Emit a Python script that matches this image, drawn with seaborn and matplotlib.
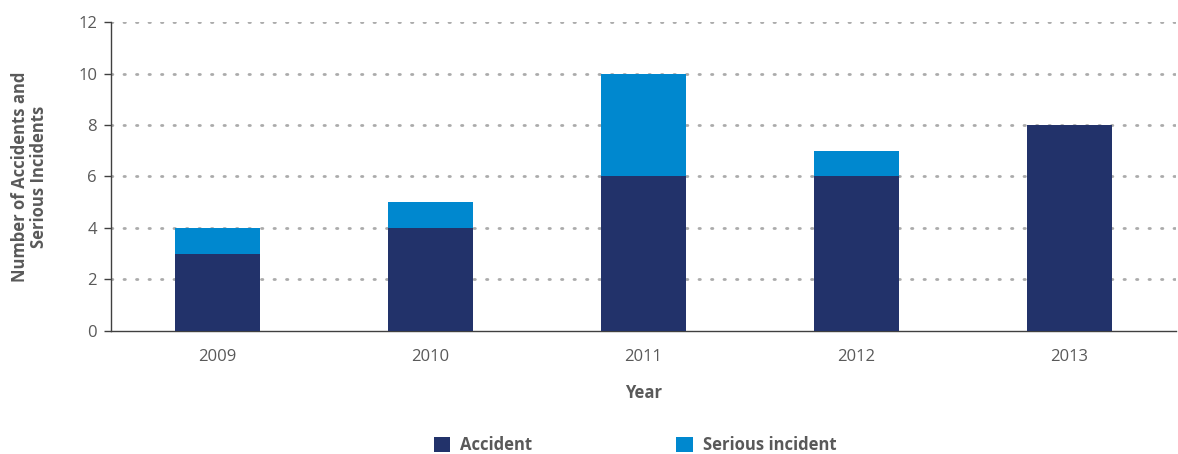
import matplotlib
matplotlib.use("Agg")
import matplotlib.pyplot as plt
from matplotlib.patches import Patch
import numpy as np
import pandas as pd
import seaborn as sns

# ----- data -----
years = ["2009", "2010", "2011", "2012", "2013"]
accident = [3, 4, 6, 6, 8]
serious_incident = [1, 1, 4, 1, 0]

navy = "#22326A"
blue = "#0088CF"
grey_txt = "#595959"

sns.set_theme(style="white")
plt.rcParams["font.family"] = ["Open Sans", "DejaVu Sans"]

df = pd.DataFrame({"Year": years, "Accident": accident, "Serious incident": serious_incident})
df["Total"] = df["Accident"] + df["Serious incident"]

fig = plt.figure(figsize=(11.78, 4.54), dpi=100)
ax = fig.add_axes([0.0942, 0.271, 0.904, 0.6805])

# stacked: total first (blue), accident over it (navy)
sns.barplot(data=df, x="Year", y="Total", order=years, color=blue, width=0.4,
            saturation=1, linewidth=0, ax=ax, zorder=3)
sns.barplot(data=df, x="Year", y="Accident", order=years, color=navy, width=0.4,
            saturation=1, linewidth=0, ax=ax, zorder=3)

ax.set_ylim(0, 12)
ax.set_yticks(np.arange(0, 13, 2))
ax.set_xlim(-0.5, len(years) - 0.5)

ax.yaxis.grid(True, color="#ABABAB", linestyle=(0, (0.5, 4.0)), linewidth=2.0,
              dash_capstyle="round", zorder=0)
ax.set_axisbelow(True)
ax.get_ygridlines()[0].set_visible(False)

for s in ["top", "right"]:
    ax.spines[s].set_visible(False)
ax.spines["left"].set_color("#404040")
ax.spines["bottom"].set_color("#404040")
ax.spines["left"].set_linewidth(1.0)
ax.spines["bottom"].set_linewidth(1.0)

# tick marks at category boundaries, labels at centers
ax.set_xticks(np.arange(-0.5, len(years), 1.0), minor=True)
ax.tick_params(axis="x", which="minor", length=7, width=1, color="#404040", direction="out")
ax.tick_params(axis="x", which="major", length=0, pad=13, labelsize=12, labelcolor=grey_txt)
ax.tick_params(axis="y", which="major", length=5, width=1, color="#404040", direction="out",
               left=True, pad=5, labelsize=12, labelcolor=grey_txt)

ax.set_xlabel("Year", fontsize=12, fontweight="bold", color=grey_txt, labelpad=14)
ax.set_ylabel("Number of Accidents and\nSerious Incidents", fontsize=12, fontweight="bold",
              color=grey_txt, labelpad=22, linespacing=1.05, multialignment="center")

handles = [Patch(facecolor=navy, edgecolor="none"), Patch(facecolor=blue, edgecolor="none")]
leg = fig.legend(handles, ["Accident", "Serious incident"], loc="center",
                 bbox_to_anchor=(0.539, 0.02), ncol=2, frameon=False, columnspacing=8.6,
                 handlelength=1.0, handleheight=1.0, handletextpad=0.6,
                 prop={"weight": "bold", "size": 12})
for t in leg.get_texts():
    t.set_color(grey_txt)

fig.savefig("out.png", dpi=100)
